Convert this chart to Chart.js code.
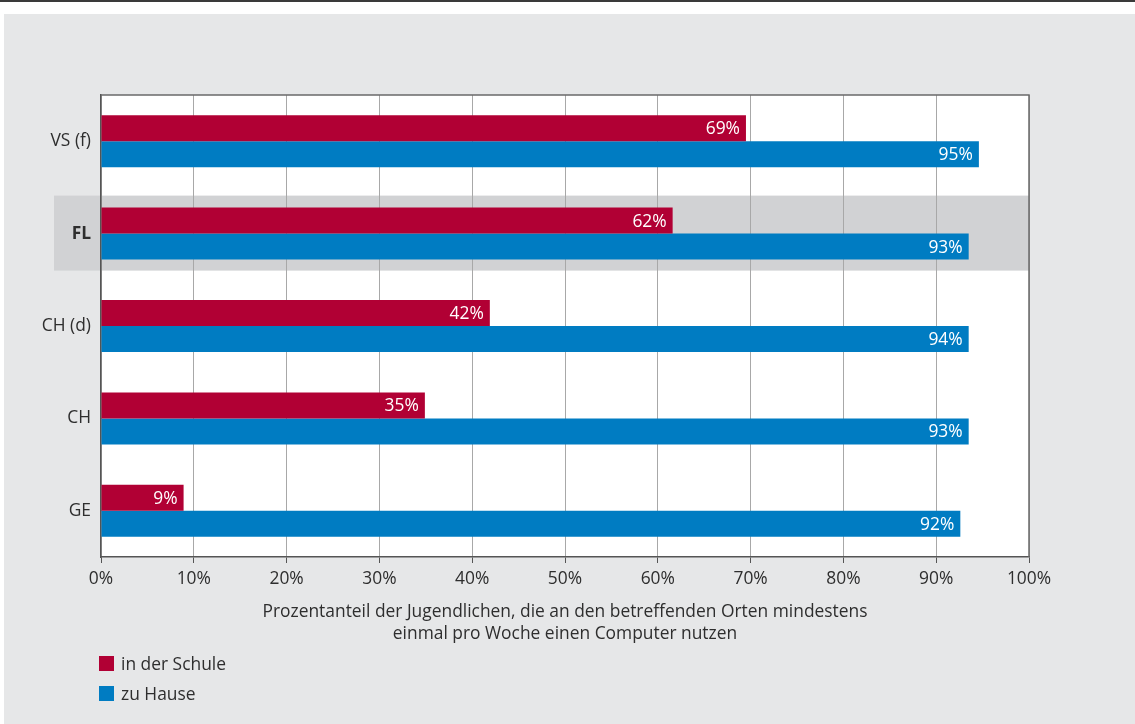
<!DOCTYPE html>
<html>
<head>
<meta charset="utf-8">
<script src="https://cdn.jsdelivr.net/npm/chart.js@4/dist/chart.umd.min.js"></script>
<style>
  body { margin: 0; background: #fff; font-family: "Open Sans", sans-serif; }
  #wrap { position: relative; width: 1135px; height: 724px; }
  #legend { position: absolute; left: 99px; top: 651px; color: #2e2e2e; font-size: 17.4px; }
  .item { height: 30px; display: flex; align-items: flex-start; }
  .box { width: 15px; height: 15px; margin-top: 5px; margin-right: 7px; }
</style>
</head>
<body>
<div id="wrap">
  <canvas id="chart" width="1135" height="724"></canvas>
  <div id="legend"></div>
</div>
<script>
// Daten
const categories = ["VS (f)", "FL", "CH (d)", "CH", "GE"];
const schuleValues = [69.5, 61.6, 41.9, 34.9, 8.9];
const hauseValues = [94.6, 93.5, 93.5, 93.5, 92.6];
const schuleLabels = ["69%", "62%", "42%", "35%", "9%"];
const hauseLabels = ["95%", "93%", "94%", "93%", "92%"];
const xTicks = [0, 10, 20, 30, 40, 50, 60, 70, 80, 90, 100];
const seriesNames = ["in der Schule", "zu Hause"];
const colors = ["#b10034", "#007cc2"];
const highlight = "FL";

const fontFamily = '"Open Sans", sans-serif';
const fontSize = 17.4;
const textColor = "#2e2e2e";

// Hintergrund, Markierung von FL, Rahmen
const backgroundPlugin = {
    id: "background",
    beforeDraw(chart) {
        const { ctx, chartArea, scales } = chart;
        ctx.save();
        ctx.fillStyle = "#fff";
        ctx.fillRect(0, 0, chart.width, chart.height);
        ctx.fillStyle = "#3a3a3a";
        ctx.fillRect(0, 0, chart.width, 2);
        ctx.fillStyle = "#e6e7e8";
        ctx.fillRect(4, 14, chart.width - 4, chart.height - 14);
        ctx.fillStyle = "#fff";
        ctx.fillRect(chartArea.left, chartArea.top, chartArea.right - chartArea.left, chartArea.bottom - chartArea.top);
        // **FL hervorheben**
        const yc = scales.y.getPixelForValue(categories.indexOf(highlight));
        ctx.fillStyle = "#d1d2d4";
        ctx.fillRect(54, yc - 38, chartArea.right - 54, 75);
        ctx.restore();
    },
    beforeDatasetsDraw(chart) {
        const { ctx, chartArea } = chart;
        ctx.save();
        ctx.strokeStyle = "#6a6a6a";
        ctx.lineWidth = 1.5;
        ctx.beginPath();
        ctx.moveTo(chartArea.left, chartArea.top);
        ctx.lineTo(chartArea.right, chartArea.top);
        ctx.lineTo(chartArea.right, chartArea.bottom);
        ctx.stroke();
        ctx.restore();
    }
};

// Prozentwerte in den Balken
const valueLabelPlugin = {
    id: "valueLabels",
    afterDatasetsDraw(chart) {
        const { ctx } = chart;
        const labelSets = [schuleLabels, hauseLabels];
        ctx.save();
        ctx.fillStyle = "#fff";
        ctx.font = fontSize + "px " + fontFamily;
        ctx.textAlign = "right";
        ctx.textBaseline = "middle";
        chart.data.datasets.forEach((ds, di) => {
            chart.getDatasetMeta(di).data.forEach((bar, i) => {
                ctx.fillText(labelSets[di][i], bar.x - 6, bar.y + 1);
            });
        });
        ctx.restore();
    }
};

const ctx = document.getElementById("chart").getContext("2d");
new Chart(ctx, {
    type: "bar",
    data: {
        labels: categories,
        datasets: [
            { label: seriesNames[0], data: schuleValues, backgroundColor: colors[0] },
            { label: seriesNames[1], data: hauseValues, backgroundColor: colors[1] }
        ]
    },
    options: {
        indexAxis: "y",
        responsive: false,
        animation: false,
        categoryPercentage: 0.563,
        barPercentage: 1.0,
        layout: { padding: { top: 95, right: 106, left: 0, bottom: 0 } },
        plugins: {
            legend: { display: false },
            tooltip: { enabled: false }
        },
        scales: {
            x: {
                min: 0,
                max: 100,
                afterBuildTicks: s => { s.ticks = xTicks.map(v => ({ value: v })); },
                afterFit: s => { s.height = 167; },
                ticks: {
                    callback: v => v + "%",
                    color: textColor,
                    font: { family: fontFamily, size: fontSize },
                    padding: 6,
                    maxRotation: 0
                },
                grid: { color: "#a8a8a8", lineWidth: 1, tickLength: 6, tickColor: "#555" },
                border: { color: "#555", width: 1.5 },
                title: {
                    display: true,
                    text: [
                        "Prozentanteil der Jugendlichen, die an den betreffenden Orten mindestens",
                        "einmal pro Woche einen Computer nutzen"
                    ],
                    color: textColor,
                    font: { family: fontFamily, size: fontSize, lineHeight: 1.32 },
                    padding: { top: 0, bottom: 78 }
                }
            },
            y: {
                afterFit: s => { s.width = 101; },
                ticks: {
                    color: textColor,
                    padding: 10,
                    font: c => ({
                        family: fontFamily,
                        size: fontSize,
                        weight: categories[c.index] === highlight ? "bold" : "normal"
                    })
                },
                grid: { display: false, drawTicks: false },
                border: { color: "#555", width: 1.5 }
            }
        }
    },
    plugins: [backgroundPlugin, valueLabelPlugin]
});

// **Legende**
const legend = document.getElementById("legend");
seriesNames.forEach((name, i) => {
    const item = document.createElement("div");
    item.className = "item";
    item.innerHTML = '<div class="box" style="background:' + colors[i] + '"></div><span>' + name + "</span>";
    legend.appendChild(item);
});
</script>
</body>
</html>
